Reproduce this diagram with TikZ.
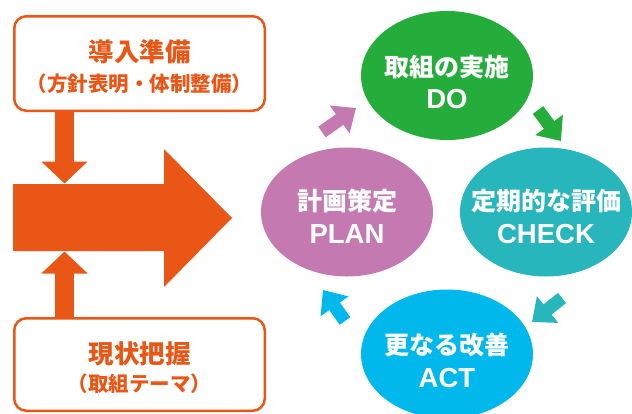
\documentclass[tikz,border=0pt]{standalone}
\usepackage{fontspec}
\newfontfamily\jp{Noto Sans CJK JP}
\newfontfamily\lat{Liberation Sans}
\usetikzlibrary{arrows.meta,shapes.geometric}
\definecolor{orng}{RGB}{233,86,22}
\definecolor{grn}{RGB}{37,173,60}
\definecolor{prp}{RGB}{196,122,176}
\definecolor{tel}{RGB}{39,182,188}
\definecolor{cyn}{RGB}{0,184,236}
\begin{document}
\begin{tikzpicture}[x=1pt,y=-1pt,
  box/.style={draw=orng, line width=2.5pt, rounded corners=12pt, fill=white, minimum width=250.5pt},
  ell/.style={ellipse, minimum width=172pt, minimum height=129pt, inner sep=0pt},
  boxbig/.style={anchor=base, inner sep=0pt, text=orng, font=\jp\bfseries\fontsize{25.5}{30}\selectfont},
  boxsmall/.style={anchor=base, inner sep=0pt, text=orng, font=\jp\bfseries\fontsize{20.5}{24}\selectfont},
  elljp/.style={anchor=base, inner sep=0pt, text=white, font=\jp\bfseries\fontsize{25}{30}\selectfont},
  elllat/.style={anchor=base, inner sep=0pt, text=white, font=\lat\bfseries\fontsize{27.5}{30}\selectfont},
  fatarrow/.style={draw=orng, line width=18.5pt, -{Triangle[width=45pt,length=22pt]}},
  cycarrow/.style={line width=13pt, -{Triangle[width=33pt,length=20pt]}}
]
\useasboundingbox (0,0) rectangle (632,413);

% left boxes
\node[box, minimum height=94.5pt] (prep) at (139.5,63.5) {};
\node[box, minimum height=92.5pt] (now) at (139.5,364.5) {};
\node[boxbig] (prep1) at (139.5,61.2) {導入準備};
\node[boxsmall] (prep2) at (139.5,91.3) {（方針表明・体制整備）};
\node[boxbig] (now1) at (139.5,363.2) {現状把握};
\node[boxsmall] (now2) at (139.5,391.3) {（取組テーマ）};

% big arrow
\fill[orng] (13,184) -- (164,184) -- (164,149) -- (232,218) -- (164,287) -- (164,251) -- (13,251) -- cycle;
\coordinate (bigtop) at (64.5,183.5);
\coordinate (bigbot) at (64.5,251.5);
\draw[fatarrow] (prep.south -| bigtop) -- (bigtop);
\draw[fatarrow] (now.north -| bigbot) -- (bigbot);

% PDCA ellipses
\node[ell, fill=grn] (do) at (447,75.5) {};
\node[ell, fill=prp] (plan) at (347,212) {};
\node[ell, fill=tel] (check) at (546,212) {};
\node[ell, fill=cyn] (act) at (447,354) {};

\node[elljp] (do1) at (447,76.5) {取組の実施};
\node[elllat] (do2) at (447,108.9) {DO};
\node[elljp] (plan1) at (347,210.5) {計画策定};
\node[elllat] (plan2) at (347,243.9) {PLAN};
\node[elljp] (check1) at (546,210.5) {定期的な評価};
\node[elllat] (check2) at (546,243.9) {CHECK};
\node[elljp] (act1) at (447,354.5) {更なる改善};
\node[elllat] (act2) at (447,387.9) {ACT};

% cycle arrows
\coordinate (pd0) at (322,132); \coordinate (pd1) at (356,108);
\coordinate (dc0) at (538,110); \coordinate (dc1) at (561,141);
\coordinate (ca0) at (562,298); \coordinate (ca1) at (532,322);
\coordinate (ap0) at (345,321); \coordinate (ap1) at (323,290);
\draw[cycarrow, draw=prp] (pd0) -- (pd1);
\draw[cycarrow, draw=grn] (dc0) -- (dc1);
\draw[cycarrow, draw=tel] (ca0) -- (ca1);
\draw[cycarrow, draw=cyn] (ap0) -- (ap1);
\end{tikzpicture}
\end{document}
